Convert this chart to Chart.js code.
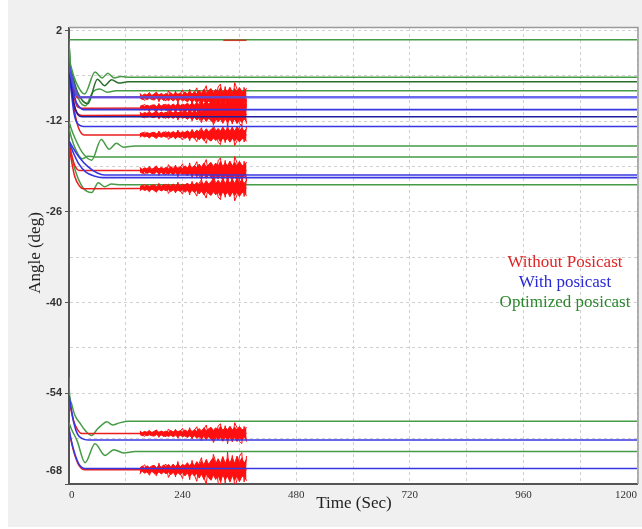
<!DOCTYPE html>
<html><head><meta charset="utf-8">
<script src="https://cdn.jsdelivr.net/npm/chart.js@4.4.1/dist/chart.umd.min.js"></script>
<style>html,body{margin:0;padding:0;background:#fff;overflow:hidden;} canvas{display:block;}</style>
</head><body>
<canvas id="c" width="642" height="529"></canvas>
<script>
// ---- axis ticks ----
const xGrid = [0,120,240,360,480,600,720,840,960,1080,1200];
const xLabels = [0,240,480,720,960,1200];
const yGrid = [2,-5,-12,-19,-26,-33,-40,-47,-54,-61,-68];
const yLabels = [2,-12,-26,-40,-54,-68];

// ---- legend / series names ----
const seriesNames = ['Without Posicast','With posicast','Optimized posicast'];

// ---- With posicast (blue) : [time s, angle deg] ----
const B1 = [[0,-3.5],[5,-5.0],[10,-6.5],[18,-8.0],[25,-8.3],[1200,-8.3]];
const B2 = [[0,-3.5],[5,-5.5],[10,-7.5],[15,-9.0],[22,-9.8],[30,-10.2],[1200,-10.2]];
const B3 = [[0,-3.8],[5,-6.5],[10,-9.2],[18,-10.9],[28,-11.3],[1200,-11.3]];
const B4 = [[0,-4.0],[5,-7.5],[10,-10.5],[15,-12.0],[22,-12.6],[30,-12.8],[1200,-12.8]];
const B5 = [[0,-15.0],[10,-16.3],[21,-17.5],[40,-19.0],[60,-20.0],[75,-20.3],[1200,-20.3]];
const B6 = [[0,-15.2],[10,-17.0],[20,-18.5],[35,-19.8],[55,-20.5],[70,-20.7],[1200,-20.7]];
const B7 = [[0,-54.3],[5,-56.5],[10,-58.5],[18,-60.3],[28,-61.0],[40,-61.2],[1200,-61.2]];
const B8 = [[0,-59.5],[4,-61.0],[10,-62.8],[20,-64.8],[34,-65.6],[1200,-65.6]];

// ---- Without posicast (red) ----
const R1 = [[0,-3.8],[5,-5.5],[10,-7.0],[18,-8.4],[28,-8.3],[375,-8.2]];
const R2 = [[0,-3.8],[5,-6.0],[10,-8.0],[18,-9.8],[28,-10.0],[375,-9.9]];
const R3 = [[0,-4.0],[5,-6.5],[10,-9.0],[18,-10.8],[28,-11.1],[375,-11.0]];
const R4 = [[0,-4.0],[5,-7.0],[12,-10.5],[20,-13.0],[32,-14.1],[375,-14.1]];
const R5 = [[0,-15.5],[5,-17.0],[12,-18.8],[22,-19.6],[375,-19.6]];
const R6 = [[0,-15.8],[5,-18.0],[12,-20.5],[22,-22.0],[30,-22.4],[375,-22.3]];
const R7 = [[0,-55.0],[5,-56.8],[10,-58.3],[18,-59.6],[27,-60.2],[375,-60.2]];
const R8 = [[0,-59.7],[4,-61.2],[10,-63.0],[20,-65.0],[34,-65.8],[375,-65.8]];
const RTOP = [[326,0.5],[375,0.5]];
const redLevels = [-8.2,-9.9,-11.0,-14.1,-19.6,-22.3,-60.2,-65.8];
const noiseGain = [1.3,1.1,1.1,1.0,1.3,1.2,1.0,1.7];
// noise samples read from the oscillating section (150 s - 375 s)
const noiseT = [150,155,160,165,170,175,180,185,190,195,200,205,210,215,220,225,230,235,240,245,250,255,260,265,270,275,280,285,290,295,300,305,310,315,320,325,330,335,340,345,350,355,360,365,370,375];
const noiseUp = [0.34,0.18,0.40,0.22,0.45,0.20,0.36,0.52,0.24,0.48,0.26,0.46,0.25,0.58,0.30,0.62,0.34,0.55,0.30,0.70,0.38,0.78,0.40,0.72,0.42,0.95,0.48,1.10,0.52,0.90,1.20,0.58,1.10,0.62,1.35,0.60,1.15,0.70,1.40,0.66,1.22,0.64,1.36,0.78,0.70,1.25];
const noiseDn = [0.22,0.42,0.20,0.44,0.25,0.43,0.50,0.22,0.50,0.28,0.56,0.27,0.60,0.32,0.64,0.34,0.68,0.36,0.62,0.40,0.80,0.42,0.84,0.45,0.92,0.50,1.02,0.55,1.18,0.60,1.05,1.35,0.64,1.25,0.72,1.50,0.70,1.30,0.76,1.40,0.72,1.55,0.78,1.35,0.74,1.20];
const noiseSpike = [0.40,-0.25,-0.45,0.20,0.50,-0.15,0.35,0.55,-0.60,0.25,-0.35,-0.50,0.70,0.30,-0.40,0.65,-0.75,0.35,0.80,-0.45,-0.30,0.90,-0.85,0.50,1.05,-0.60,-1.10,0.70,1.30,-0.55,0.85,-1.40,-0.70,1.15,1.50,-0.80,1.20,-1.60,0.60,-1.30,1.65,0.90,-1.20,-1.55,1.10,-1.25];

// ---- Optimized posicast (green) ----
const G1 = [[0,0.6],[1200,0.6]];
const G2 = [[0,0.3],[2,-2.5],[6,-4.0],[15,-6.0],[33,-7.8],[55,-4.4],[70,-5.3],[82,-4.6],[95,-5.3],[110,-5.1],[130,-5.2],[1200,-5.2]];
const G3 = [[0,0.3],[2,-3.0],[8,-5.0],[18,-7.5],[40,-9.3],[60,-5.5],[75,-6.5],[90,-5.6],[105,-6.1],[125,-5.9],[1200,-5.9]];
const G4 = [[0,0.0],[3,-3.5],[10,-6.0],[22,-8.8],[35,-9.6],[50,-7.5],[65,-7.0],[80,-7.5],[100,-7.3],[1200,-7.3]];
const G5 = [[0,-12.0],[4,-13.0],[12,-14.5],[28,-16.8],[48,-18.0],[68,-14.8],[85,-16.3],[100,-15.4],[115,-16.0],[140,-15.8],[1200,-15.8]];
const G6 = [[0,-13.0],[5,-14.5],[15,-16.5],[28,-17.8],[40,-17.4],[55,-17.5],[1200,-17.5]];
const G7 = [[0,-15.0],[6,-17.5],[15,-20.0],[30,-22.3],[48,-23.0],[62,-21.5],[75,-22.1],[90,-21.7],[110,-21.8],[1200,-21.8]];
const G8 = [[0,-51.5],[1,-54.0],[5,-55.5],[12,-57.3],[25,-58.8],[35,-59.8],[48,-60.5],[60,-59.5],[69,-58.9],[80,-58.4],[92,-58.9],[105,-58.6],[126,-58.3],[1200,-58.3]];
const G9 = [[0,-58.5],[5,-59.5],[17,-61.3],[34,-64.7],[55,-61.8],[76,-63.6],[95,-62.7],[115,-63.2],[140,-63.0],[1200,-63.0]];

const RED = 'rgb(235,30,30)', BLUE = 'rgb(55,55,225)', GREEN = 'rgb(70,155,70)', NOISE = 'rgb(255,15,15)';
const pts = a => a.map(p => ({x:p[0], y:p[1]}));
const line = (a, color, w, extra) => Object.assign({data: pts(a), borderColor: color, borderWidth: w, pointRadius: 0, cubicInterpolationMode: 'monotone', fill: false}, extra || {});

const datasets = [];
[B1,B2,B3,B4,B5,B6,B7,B8].forEach((a,i) => {
  const c = i===2 ? 'rgb(30,30,160)' : (i===0 ? 'rgba(80,80,235,0.85)' : BLUE);
  datasets.push(line(a, c, i===0 ? 2.6 : 1.6));
});
[R1,R2,R3,R4,R5,R6,R7,R8].forEach((a,i) => {
  const up = i%2===0 ? noiseUp : noiseDn, dn = i%2===0 ? noiseDn : noiseUp;
  const g = noiseGain[i], L = redLevels[i], sgn = i%2===0 ? 1 : -1;
  // spiky trace
  datasets.push({data: noiseT.map((t,k)=>({x:t, y: L + sgn*g*noiseSpike[k]})), borderColor:NOISE, borderWidth:1, pointRadius:0, tension:0, fill:false});
  // dense core of the noisy trace
  datasets.push({data: noiseT.map((t,k)=>({x:t, y: L + 0.8*g*up[k]})), borderColor:NOISE, borderWidth:1, pointRadius:0, tension:0, fill:false});
  datasets.push({data: noiseT.map((t,k)=>({x:t, y: L - 0.8*g*dn[k]})), borderColor:NOISE, borderWidth:1, pointRadius:0, tension:0, fill:'-1', backgroundColor:NOISE});
  datasets.push(line(a, RED, 1.5));
});
datasets.push(line(RTOP, 'rgb(200,60,40)', 1.5));
[G1,G2,G3,G4,G5,G6,G7,G8,G9].forEach((a,i) => {
  datasets.push(line(a, i===2 ? 'rgb(40,110,40)' : GREEN, 1.5));
});

const deco = {
  id: 'deco',
  beforeDraw(chart) {
    const {ctx, chartArea:a} = chart;
    ctx.save();
    ctx.fillStyle = '#ffffff'; ctx.fillRect(0,0,642,529);
    ctx.fillStyle = '#f0f0f0'; ctx.fillRect(8,0,634,527);
    ctx.fillStyle = '#ffffff'; ctx.fillRect(a.left,a.top,a.right-a.left,a.bottom-a.top);
    ctx.restore();
  },
  afterDraw(chart) {
    const {ctx, chartArea:a} = chart;
    ctx.save();
    ctx.strokeStyle = '#9a9a9a'; ctx.lineWidth = 1.5;
    ctx.beginPath(); ctx.moveTo(a.left, a.top-0.5); ctx.lineTo(a.right+1, a.top-0.5); ctx.lineTo(a.right+1, a.bottom); ctx.stroke();
    ctx.fillStyle = '#222';
    ctx.font = '17px "Liberation Serif", "Times New Roman", serif';
    ctx.textAlign = 'center'; ctx.textBaseline = 'middle';
    ctx.fillText('Time (Sec)', 354, 504);
    ctx.save(); ctx.translate(36, 253); ctx.rotate(-Math.PI/2); ctx.fillText('Angle (deg)', 0, 0); ctx.restore();
    const cols = ['rgb(225,35,35)','rgb(40,40,215)','rgb(45,135,45)'];
    seriesNames.forEach((s,i) => { ctx.fillStyle = cols[i]; ctx.fillText(s, 565, 263 + 20*i); });
    ctx.restore();
  }
};

new Chart(document.getElementById('c'), {
  type: 'line',
  data: { datasets },
  plugins: [deco],
  options: {
    responsive: false, animation: false, devicePixelRatio: 1,
    layout: { padding: { top: 28, right: 3, left: 0, bottom: 0 } },
    plugins: { legend: { display: false }, tooltip: { enabled: false } },
    scales: {
      x: {
        type: 'linear', min: 0, max: 1200,
        afterBuildTicks: s => { s.ticks = xGrid.map(v => ({value: v})); },
        afterFit: s => { s.height = 45; },
        ticks: { autoSkip: false, maxRotation: 0, align: 'inner', padding: 5, color: '#333',
          font: { family: '"Liberation Serif", serif', size: 11 },
          callback: v => xLabels.includes(v) ? String(v) : '' },
        grid: { color: '#cfcfcf', lineWidth: 1, drawTicks: false },
        border: { color: '#555', width: 2, dash: [3,3] }
      },
      y: {
        min: -68, max: 2.4,
        afterBuildTicks: s => { s.ticks = yGrid.map(v => ({value: v})); },
        afterFit: s => { s.width = 69; },
        ticks: { autoSkip: false, padding: 3, color: '#333',
          font: { family: '"Liberation Sans", Arial, sans-serif', size: 11, weight: 'bold' },
          callback: v => v === -68 ? ['-68','',''] : (yLabels.includes(v) ? String(v) : '') },
        grid: { color: '#cfcfcf', lineWidth: 1, tickLength: 4,
          tickColor: c => (c.tick && yLabels.includes(c.tick.value)) ? '#555' : 'rgba(0,0,0,0)' },
        border: { color: '#555', width: 2, dash: [3,3] }
      }
    }
  }
});
</script>
</body></html>
